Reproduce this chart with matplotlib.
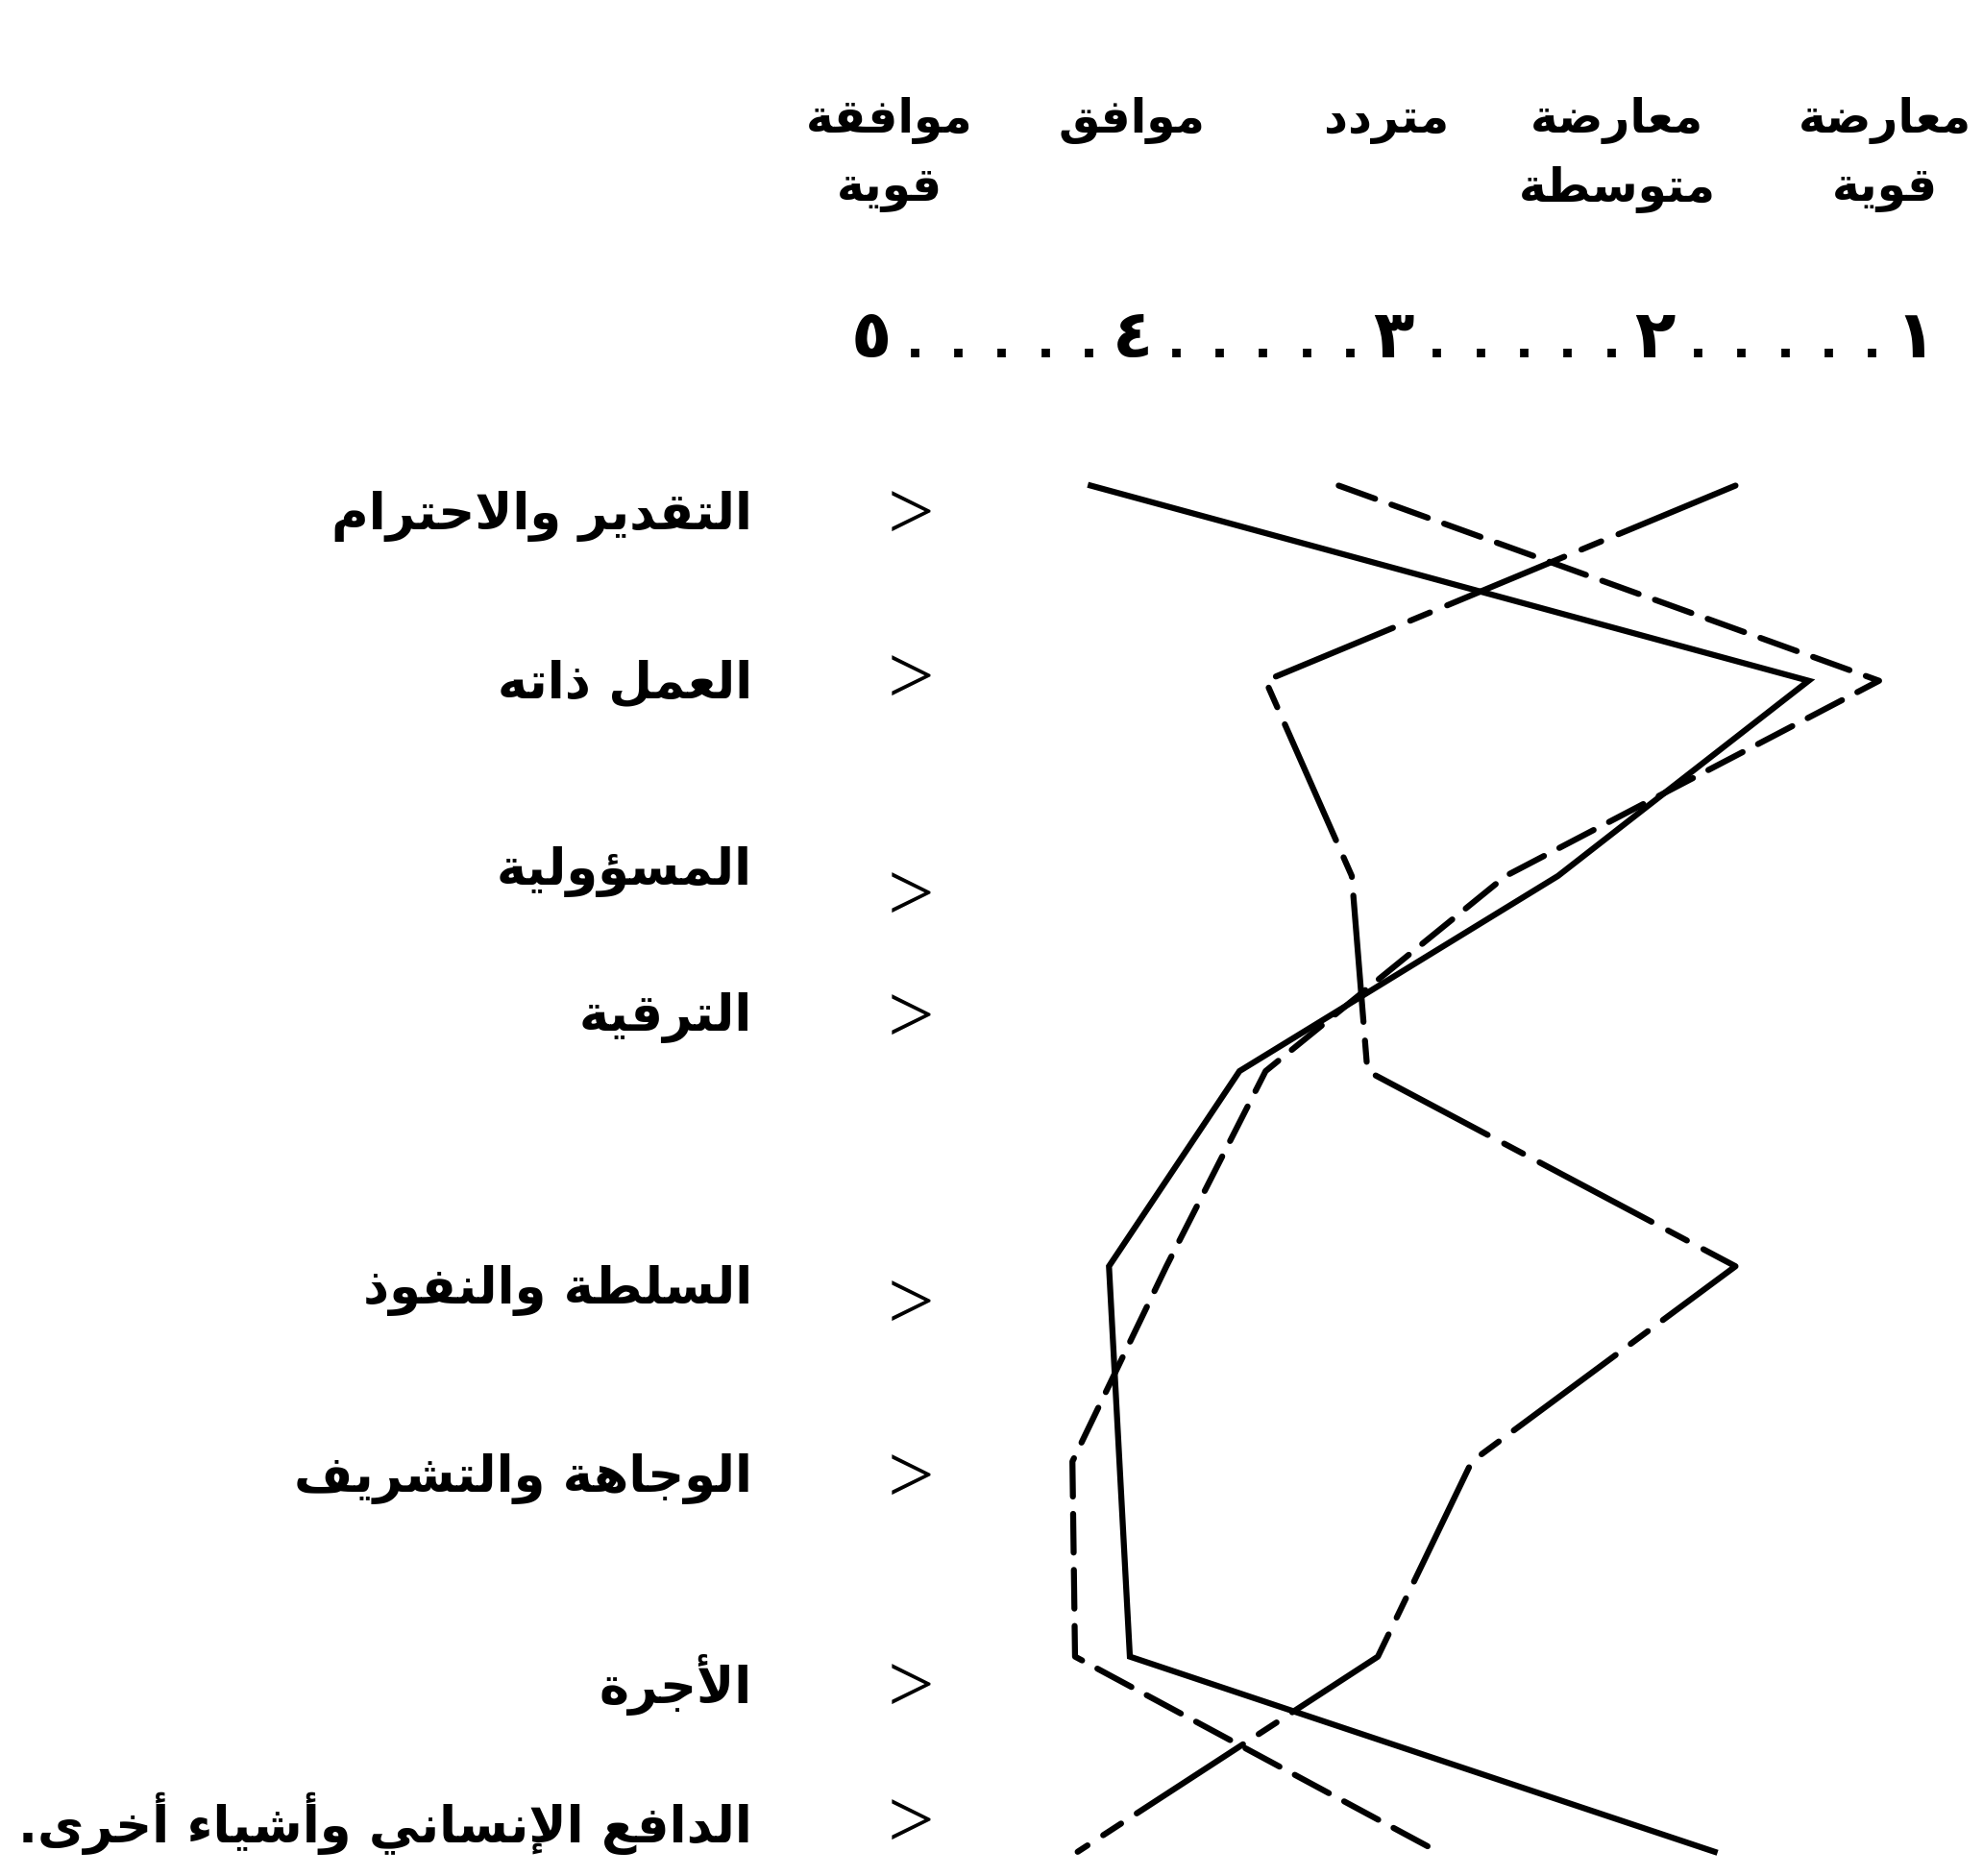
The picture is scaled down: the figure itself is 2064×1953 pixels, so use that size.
import numpy as np
import matplotlib
matplotlib.use("Agg")
import matplotlib.pyplot as plt
from matplotlib.transforms import offset_copy

plt.rcParams['font.family'] = ['DejaVu Sans']
plt.rcParams['lines.scale_dashes'] = False

# ---------------- data ----------------
categories = ["التقدير والاحترام", "العمل ذاته", "المسؤولية", "الترقية",
              "السلطة والنفوذ", "الوجاهة والتشريف", "الأجرة",
              "الدافع الإنساني وأشياء أخرى."]
scale_values = [1, 2, 3, 4, 5]
scale_digits = ["١", "٢", "٣", "٤", "٥"]
scale_labels = ["معارضة قوية", "معارضة متوسطة", "متردد", "موافق", "موافقة قوية"]

series_solid = [4.16, 1.41, 2.37, 3.59, 4.09, 4.05, 4.01, 1.77]
series_dashed = [3.21, 1.14, 2.57, 3.49, 3.87, 4.23, 4.22, 2.83]
series_dashdot = [1.69, 3.49, 3.16, 3.10, 1.69, 2.70, 3.06, 4.21]

# ---------------- Arabic shaping (presentation forms + visual order) ----------------
_BASE = [('\u0621', 0xFE80, 1), ('\u0622', 0xFE81, 2), ('\u0623', 0xFE83, 2),
         ('\u0624', 0xFE85, 2), ('\u0625', 0xFE87, 2), ('\u0626', 0xFE89, 4),
         ('\u0627', 0xFE8D, 2), ('\u0628', 0xFE8F, 4), ('\u0629', 0xFE93, 2),
         ('\u062A', 0xFE95, 4), ('\u062B', 0xFE99, 4), ('\u062C', 0xFE9D, 4),
         ('\u062D', 0xFEA1, 4), ('\u062E', 0xFEA5, 4), ('\u062F', 0xFEA9, 2),
         ('\u0630', 0xFEAB, 2), ('\u0631', 0xFEAD, 2), ('\u0632', 0xFEAF, 2),
         ('\u0633', 0xFEB1, 4), ('\u0634', 0xFEB5, 4), ('\u0635', 0xFEB9, 4),
         ('\u0636', 0xFEBD, 4), ('\u0637', 0xFEC1, 4), ('\u0638', 0xFEC5, 4),
         ('\u0639', 0xFEC9, 4), ('\u063A', 0xFECD, 4), ('\u0641', 0xFED1, 4),
         ('\u0642', 0xFED5, 4), ('\u0643', 0xFED9, 4), ('\u0644', 0xFEDD, 4),
         ('\u0645', 0xFEE1, 4), ('\u0646', 0xFEE5, 4), ('\u0647', 0xFEE9, 4),
         ('\u0648', 0xFEED, 2), ('\u0649', 0xFEEF, 2), ('\u064A', 0xFEF1, 4)]
FORMS = {c: [chr(s + k) for k in range(n)] for c, s, n in _BASE}
LAMALEF = {'\u0622': 0xFEF5, '\u0623': 0xFEF7, '\u0625': 0xFEF9, '\u0627': 0xFEFB}


def _jtype(tok):
    if tok[0] == 'LA':
        return 'R'
    f = FORMS.get(tok[1])
    if f is None:
        return 'U'
    return {4: 'D', 2: 'R'}.get(len(f), 'U')


def shape(text):
    toks = []
    i = 0
    while i < len(text):
        c = text[i]
        if c == '\u0644' and i + 1 < len(text) and text[i + 1] in LAMALEF:
            toks.append(('LA', text[i + 1]))
            i += 2
        else:
            toks.append(('C', c))
            i += 1
    out = []
    for k, tok in enumerate(toks):
        t = _jtype(tok)
        jp = t in ('D', 'R') and k > 0 and _jtype(toks[k - 1]) == 'D'
        jn = t == 'D' and k + 1 < len(toks) and _jtype(toks[k + 1]) in ('D', 'R')
        if tok[0] == 'LA':
            out.append(chr(LAMALEF[tok[1]] + (1 if jp else 0)))
        elif tok[1] in FORMS:
            f = FORMS[tok[1]]
            if t == 'D':
                idx = 3 if (jp and jn) else 2 if jn else 1 if jp else 0
            elif t == 'R':
                idx = 1 if jp else 0
            else:
                idx = 0
            out.append(f[idx])
        else:
            out.append(tok[1])
    return ''.join(reversed(out))


# ---------------- figure ----------------
W, H = 2064, 1953
fig = plt.figure(figsize=(W / 100, H / 100), dpi=100)
fig.patch.set_facecolor('white')
ax = fig.add_axes([0, 0, 1, 1])
ax.set_xlim(8.338, 0.742)
ax.set_ylim(7.124, -2.488)
ax.axis('off')

rows = np.arange(len(categories))
lw = 4.5
ax.plot(series_solid, rows, color='black', lw=lw, solid_joinstyle='miter')
ax.plot(series_dashed, rows, color='black', lw=lw, linestyle=(0, (29, 13)),
        dash_capstyle='round')
ax.plot(series_dashdot, rows, color='black', lw=lw,
        linestyle=(0, (95, 14, 16, 14)), dash_capstyle='round')


def fy(ypx):
    return 1 - ypx / H


AR = dict(fontweight='bold', color='black')
FS = 38

# scale row: digits with dotted fill
trans_x = ax.get_xaxis_transform()
y_scale = fy(372)
for v, d in zip(scale_values, scale_digits):
    ax.text(v, y_scale, d, transform=trans_x, ha='center', va='baseline',
            fontsize=50, **AR)
for v in scale_values[:-1]:
    for j in range(1, 6):
        ax.text(v + j / 6, y_scale, '.', transform=trans_x, ha='center',
                va='baseline', fontsize=36, **AR)

# header labels above the scale
header_dx = [-32, -39, -7, -1, 19]
for v, lab, dx in zip(scale_values, scale_labels, header_dx):
    tr = offset_copy(trans_x, fig=fig, x=dx, y=0, units='dots')
    parts = lab.split(' ')
    ax.text(v, fy(126), shape(parts[0]), transform=tr, ha='center',
            va='center', fontsize=35, **AR)
    if len(parts) > 1:
        ax.text(v, fy(197), shape(parts[1]), transform=tr, ha='center',
                va='center', fontsize=35, **AR)

# category labels with arrows
label_y = [537, 711, 908, 1060, 1343, 1540, 1754, 1898]
arrow_y = [540, 711, 937, 1064, 1362, 1543, 1761, 1902]
for cat, ly, ay in zip(categories, label_y, arrow_y):
    fig.text(783 / W, fy(ly), shape(cat), ha='right', va='center',
             fontsize=FS, **AR)
    fig.text(948 / W, fy(ay), '>', ha='center', va='center', fontsize=62,
             family='Liberation Serif', color='black')

fig.savefig('out.png', dpi=100, facecolor='white')
